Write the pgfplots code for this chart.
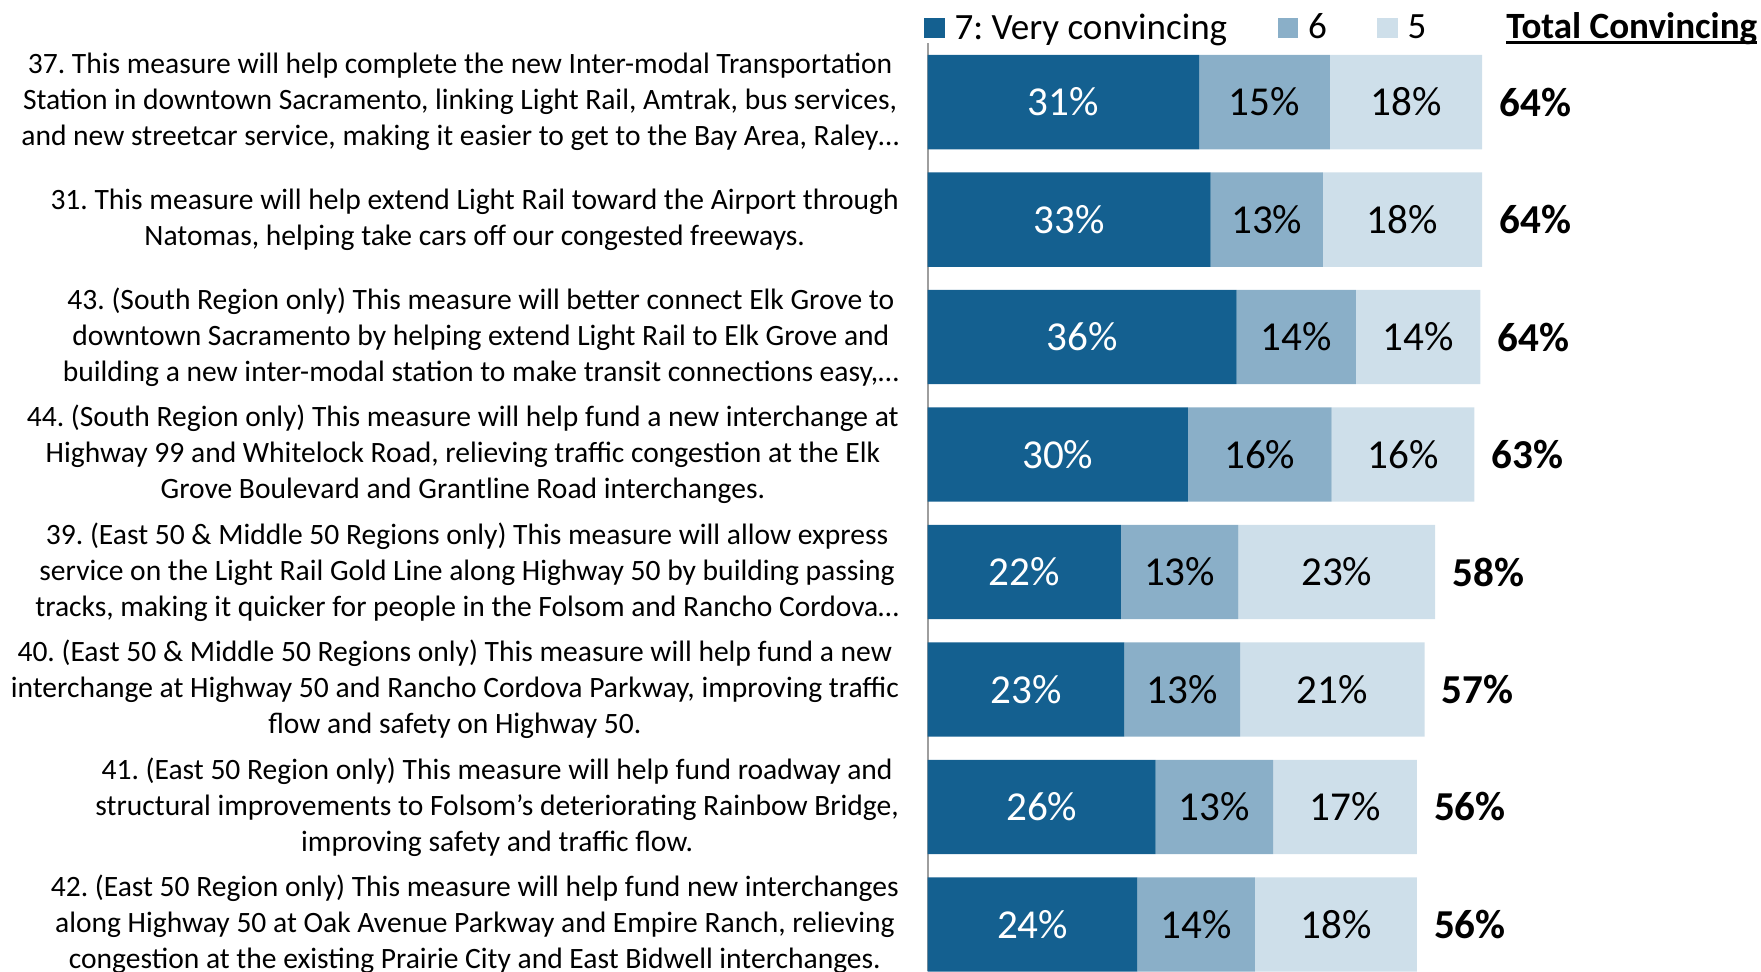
\documentclass[border=0pt]{standalone}
\usepackage{fontspec}
\setmainfont{Carlito}
\usepackage{pgfplots}
\usepackage{pgfplotstable}
\pgfplotsset{compat=1.18}
\frenchspacing
\definecolor{c7}{RGB}{20,96,144}
\definecolor{c6}{RGB}{138,175,200}
\definecolor{c5}{RGB}{206,223,234}
\newcommand\myul[1]{\setbox0\hbox{#1}\rlap{\rule[-2.4pt]{\wd0}{1.1pt}}\box0}
% v7 v6 v5: segment lengths; c7 c6 c5: segment centres; e5: bar end; l*: printed labels
\pgfplotstableread{
row v7 v6 v5 c7 c6 c5 e5 l7 l6 l5 tot
1 31.2 15.0 17.5 15.60 38.70 54.95 63.7 31 15 18 64
2 32.5 12.9 18.3 16.25 38.95 54.55 63.7 33 13 18 64
3 35.5 13.7 14.3 17.75 42.35 56.35 63.5 36 14 14 64
4 29.9 16.5 16.4 14.95 38.15 54.60 62.8 30 16 16 63
5 22.2 13.5 22.6 11.10 28.95 47.00 58.3 22 13 23 58
6 22.6 13.3 21.2 11.30 29.25 46.50 57.1 23 13 21 57
7 26.2 13.5 16.5 13.10 32.95 47.95 56.2 26 13 17 56
8 24.1 13.5 18.6 12.05 30.85 46.90 56.2 24 14 18 56
}\data
\pgfplotsset{
  common/.style={
    scale only axis,
    width=372pt, height=413.2pt,
    xmin=0, xmax=96,
    ymin=0.5, ymax=8.4,
    y dir=reverse,
    clip=false,
  }
}
\begin{document}
\begin{tikzpicture}
\begin{axis}[
  common,
  name=ax,
  xbar stacked,
  bar width=42pt,
  axis x line=none,
  axis y line=left,
  y axis line style={-, draw=black!38, line width=0.75pt},
  xtick=\empty,
  ytick={1,2,3,4,5,6,7,8},
  yticklabels={
    {37. This measure will help complete the new Inter-modal Transportation\\Station in downtown Sacramento, linking Light Rail, Amtrak, bus services,\\and new streetcar service, making it easier to get to the Bay Area, Raley…},
    {31. This measure will help extend Light Rail toward the Airport through\\Natomas, helping take cars off our congested freeways.},
    {43. (South Region only) This measure will better connect Elk Grove to\\downtown Sacramento by helping extend Light Rail to Elk Grove and\\building a new inter-modal station to make transit connections easy,…},
    {44. (South Region only) This measure will help fund a new interchange at\\Highway 99 and Whitelock Road, relieving traffic congestion at the Elk\\Grove Boulevard and Grantline Road interchanges.},
    {39. (East 50 \& Middle 50 Regions only) This measure will allow express\\service on the Light Rail Gold Line along Highway 50 by building passing\\tracks, making it quicker for people in the Folsom and Rancho Cordova…},
    {40. (East 50 \& Middle 50 Regions only) This measure will help fund a new\\interchange at Highway 50 and Rancho Cordova Parkway, improving traffic\\flow and safety on Highway 50.},
    {41. (East 50 Region only) This measure will help fund roadway and\\structural improvements to Folsom’s deteriorating Rainbow Bridge,\\improving safety and traffic flow.},
    {42. (East 50 Region only) This measure will help fund new interchanges\\along Highway 50 at Oak Avenue Parkway and Empire Ranch, relieving\\congestion at the existing Prairie City and East Bidwell interchanges.}
  },
  ytick style={draw=none},
  yticklabel style={align=center, anchor=east, inner sep=0pt, xshift=-10.5pt, font=\fontsize{13.15}{16}\selectfont},
  legend columns=3,
  legend style={at={(0,1)}, anchor=west, xshift=-1.5pt, yshift=6.85pt, draw=none, fill=none, inner sep=0pt, outer sep=0pt,
    font=\fontsize{16.5}{19}\selectfont,
    /tikz/every odd column/.append style={column sep=2.5pt},
    /tikz/every even column/.append style={column sep=20.5pt}},
  legend image code/.code={\fill[#1] (0pt,-4.5pt) rectangle (9pt,4.5pt);},
]
\addplot[fill=c7, draw=none] table[x=v7, y=row] {\data};
\addplot[fill=c6, draw=none] table[x=v6, y=row] {\data};
\addplot[fill=c5, draw=none] table[x=v5, y=row] {\data};
\legend{{7: Very convincing}, 6, 5}
\end{axis}
\begin{axis}[
  common,
  at={(ax.south west)}, anchor=south west,
  hide axis,
  point meta=explicit symbolic,
  nodes near coords={\pgfplotspointmeta\%},
  every node near coord/.append style={anchor=center, inner sep=0pt, font=\fontsize{18.3}{20}\selectfont},
]
\addplot[draw=none, mark=none, every node near coord/.append style={text=white}] table[x=c7, y=row, meta=l7] {\data};
\addplot[draw=none, mark=none, every node near coord/.append style={text=black}] table[x=c6, y=row, meta=l6] {\data};
\addplot[draw=none, mark=none, every node near coord/.append style={text=black}] table[x=c5, y=row, meta=l5] {\data};
\addplot[draw=none, mark=none, every node near coord/.append style={anchor=west, xshift=7.5pt, text=black, font=\fontsize{18.3}{20}\selectfont\bfseries}] table[x=e5, y=row, meta=tot] {\data};
\end{axis}
\node[anchor=base east, font=\fontsize{16.5}{19}\selectfont\bfseries, inner sep=0pt] at ([xshift=-2.5pt,yshift=2.25pt]ax.north east) {\myul{Total Convincing}};
\pgfresetboundingbox
\path[use as bounding box] ([xshift=-413pt]ax.south west) rectangle ([xshift=371pt,yshift=432.5pt]ax.south west);
\end{tikzpicture}
\end{document}
